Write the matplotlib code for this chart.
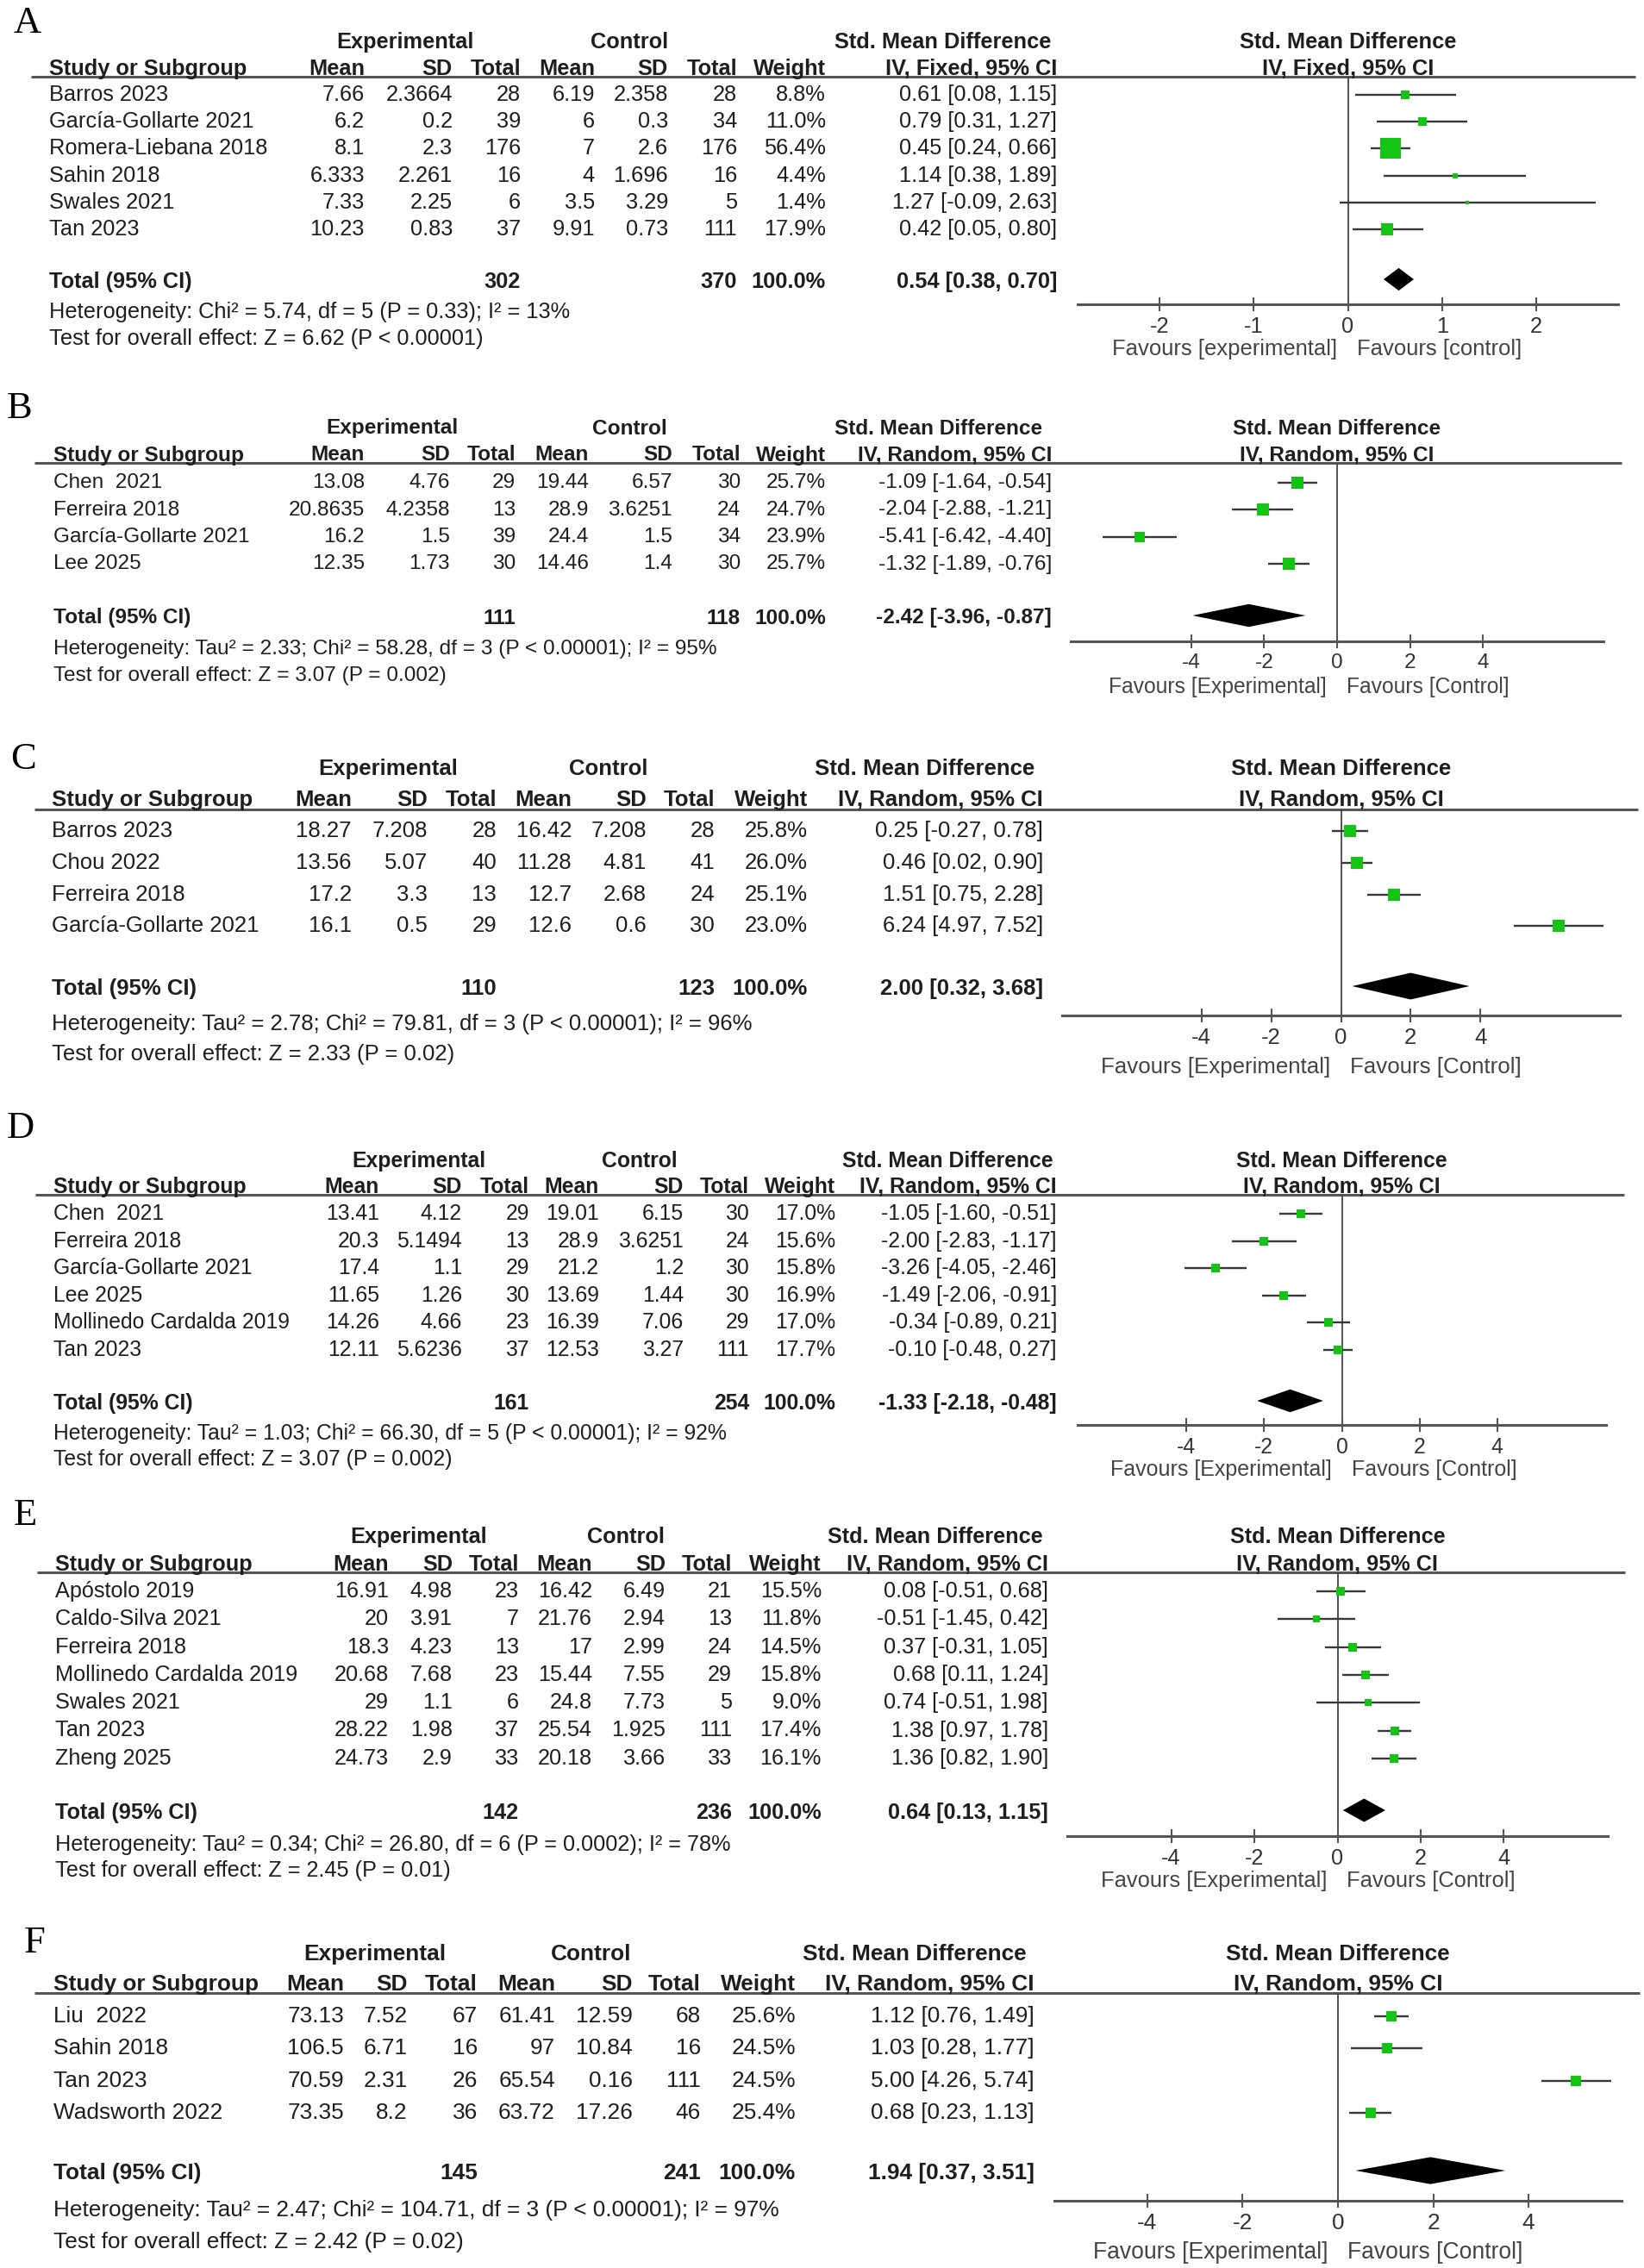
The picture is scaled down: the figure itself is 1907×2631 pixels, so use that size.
"""
Forest plots A-F (Std. Mean Difference, RevMan style), six panels stacked.
Values copied from the published figure; edit the constants below to update.
"""
import matplotlib
matplotlib.use("Agg")
import matplotlib.pyplot as plt
import numpy as np

plt.rcParams["font.family"] = ["Liberation Sans", "DejaVu Sans"]

W, H = 1908, 2631

# ---------------- Panel A (IV, Fixed) ----------------
A_STUDIES = ["Barros 2023", "García-Gollarte 2021", "Romera-Liebana 2018", "Sahin 2018", "Swales 2021", "Tan 2023"]
A_EXP_MEAN = [7.66, 6.2, 8.1, 6.333, 7.33, 10.23]
A_EXP_SD = [2.3664, 0.2, 2.3, 2.261, 2.25, 0.83]
A_EXP_N = [28, 39, 176, 16, 6, 37]
A_CTL_MEAN = [6.19, 6, 7, 4, 3.5, 9.91]
A_CTL_SD = [2.358, 0.3, 2.6, 1.696, 3.29, 0.73]
A_CTL_N = [28, 34, 176, 16, 5, 111]
A_WEIGHT = [8.8, 11.0, 56.4, 4.4, 1.4, 17.9]
A_SMD = [0.61, 0.79, 0.45, 1.14, 1.27, 0.42]
A_LO = [0.08, 0.31, 0.24, 0.38, -0.09, 0.05]
A_HI = [1.15, 1.27, 0.66, 1.89, 2.63, 0.80]
A_TOTAL = [302, 370, 0.54, 0.38, 0.70]  # exp N, ctl N, SMD, lo, hi
A_HET = "Heterogeneity: Chi² = 5.74, df = 5 (P = 0.33); I² = 13%"
A_TEST = "Test for overall effect: Z = 6.62 (P < 0.00001)"

# ---------------- Panel B ----------------
B_STUDIES = ["Chen  2021", "Ferreira 2018", "García-Gollarte 2021", "Lee 2025"]
B_EXP_MEAN = [13.08, 20.8635, 16.2, 12.35]
B_EXP_SD = [4.76, 4.2358, 1.5, 1.73]
B_EXP_N = [29, 13, 39, 30]
B_CTL_MEAN = [19.44, 28.9, 24.4, 14.46]
B_CTL_SD = [6.57, 3.6251, 1.5, 1.4]
B_CTL_N = [30, 24, 34, 30]
B_WEIGHT = [25.7, 24.7, 23.9, 25.7]
B_SMD = [-1.09, -2.04, -5.41, -1.32]
B_LO = [-1.64, -2.88, -6.42, -1.89]
B_HI = [-0.54, -1.21, -4.40, -0.76]
B_TOTAL = [111, 118, -2.42, -3.96, -0.87]
B_HET = "Heterogeneity: Tau² = 2.33; Chi² = 58.28, df = 3 (P < 0.00001); I² = 95%"
B_TEST = "Test for overall effect: Z = 3.07 (P = 0.002)"

# ---------------- Panel C ----------------
C_STUDIES = ["Barros 2023", "Chou 2022", "Ferreira 2018", "García-Gollarte 2021"]
C_EXP_MEAN = [18.27, 13.56, 17.2, 16.1]
C_EXP_SD = [7.208, 5.07, 3.3, 0.5]
C_EXP_N = [28, 40, 13, 29]
C_CTL_MEAN = [16.42, 11.28, 12.7, 12.6]
C_CTL_SD = [7.208, 4.81, 2.68, 0.6]
C_CTL_N = [28, 41, 24, 30]
C_WEIGHT = [25.8, 26.0, 25.1, 23.0]
C_SMD = [0.25, 0.46, 1.51, 6.24]
C_LO = [-0.27, 0.02, 0.75, 4.97]
C_HI = [0.78, 0.90, 2.28, 7.52]
C_TOTAL = [110, 123, 2.00, 0.32, 3.68]
C_HET = "Heterogeneity: Tau² = 2.78; Chi² = 79.81, df = 3 (P < 0.00001); I² = 96%"
C_TEST = "Test for overall effect: Z = 2.33 (P = 0.02)"

# ---------------- Panel D ----------------
D_STUDIES = ["Chen  2021", "Ferreira 2018", "García-Gollarte 2021", "Lee 2025", "Mollinedo Cardalda 2019", "Tan 2023"]
D_EXP_MEAN = [13.41, 20.3, 17.4, 11.65, 14.26, 12.11]
D_EXP_SD = [4.12, 5.1494, 1.1, 1.26, 4.66, 5.6236]
D_EXP_N = [29, 13, 29, 30, 23, 37]
D_CTL_MEAN = [19.01, 28.9, 21.2, 13.69, 16.39, 12.53]
D_CTL_SD = [6.15, 3.6251, 1.2, 1.44, 7.06, 3.27]
D_CTL_N = [30, 24, 30, 30, 29, 111]
D_WEIGHT = [17.0, 15.6, 15.8, 16.9, 17.0, 17.7]
D_SMD = [-1.05, -2.00, -3.26, -1.49, -0.34, -0.10]
D_LO = [-1.60, -2.83, -4.05, -2.06, -0.89, -0.48]
D_HI = [-0.51, -1.17, -2.46, -0.91, 0.21, 0.27]
D_TOTAL = [161, 254, -1.33, -2.18, -0.48]
D_HET = "Heterogeneity: Tau² = 1.03; Chi² = 66.30, df = 5 (P < 0.00001); I² = 92%"
D_TEST = "Test for overall effect: Z = 3.07 (P = 0.002)"

# ---------------- Panel E ----------------
E_STUDIES = ["Apóstolo 2019", "Caldo-Silva 2021", "Ferreira 2018", "Mollinedo Cardalda 2019",
             "Swales 2021", "Tan 2023", "Zheng 2025"]
E_EXP_MEAN = [16.91, 20, 18.3, 20.68, 29, 28.22, 24.73]
E_EXP_SD = [4.98, 3.91, 4.23, 7.68, 1.1, 1.98, 2.9]
E_EXP_N = [23, 7, 13, 23, 6, 37, 33]
E_CTL_MEAN = [16.42, 21.76, 17, 15.44, 24.8, 25.54, 20.18]
E_CTL_SD = [6.49, 2.94, 2.99, 7.55, 7.73, 1.925, 3.66]
E_CTL_N = [21, 13, 24, 29, 5, 111, 33]
E_WEIGHT = [15.5, 11.8, 14.5, 15.8, 9.0, 17.4, 16.1]
E_SMD = [0.08, -0.51, 0.37, 0.68, 0.74, 1.38, 1.36]
E_LO = [-0.51, -1.45, -0.31, 0.11, -0.51, 0.97, 0.82]
E_HI = [0.68, 0.42, 1.05, 1.24, 1.98, 1.78, 1.90]
E_TOTAL = [142, 236, 0.64, 0.13, 1.15]
E_HET = "Heterogeneity: Tau² = 0.34; Chi² = 26.80, df = 6 (P = 0.0002); I² = 78%"
E_TEST = "Test for overall effect: Z = 2.45 (P = 0.01)"

# ---------------- Panel F ----------------
F_STUDIES = ["Liu  2022", "Sahin 2018", "Tan 2023", "Wadsworth 2022"]
F_EXP_MEAN = [73.13, 106.5, 70.59, 73.35]
F_EXP_SD = [7.52, 6.71, 2.31, 8.2]
F_EXP_N = [67, 16, 26, 36]
F_CTL_MEAN = [61.41, 97, 65.54, 63.72]
F_CTL_SD = [12.59, 10.84, 0.16, 17.26]
F_CTL_N = [68, 16, 111, 46]
F_WEIGHT = [25.6, 24.5, 24.5, 25.4]
F_SMD = [1.12, 1.03, 5.00, 0.68]
F_LO = [0.76, 0.28, 4.26, 0.23]
F_HI = [1.49, 1.77, 5.74, 1.13]
F_TOTAL = [145, 241, 1.94, 0.37, 3.51]
F_HET = "Heterogeneity: Tau² = 2.47; Chi² = 104.71, df = 3 (P < 0.00001); I² = 97%"
F_TEST = "Test for overall effect: Z = 2.42 (P = 0.02)"

TICKS_A = [-2, -1, 0, 1, 2]
TICKS_RANDOM = [-4, -2, 0, 2, 4]

INK = "#1e1e1e"
RULE = "#555555"
CI_COL = "#383838"
GREEN = "#14c414"
DY = 3  # text sits a touch lower than the nominal row centre

# layout in pixels (y from top): letter, header rows, rule, first row, row step,
# total/het/test rows, axis row, plot x extent, half range, favours drop, font size
LAYOUT = {
    "A": dict(letter=(16, 38), h1=46, h2=77, line_y=89, line_x=(36, 1897), row0=107, step=31.2,
              total=324, het=359, test=390, axis_y=353, px=(1250, 1877), L=2.87, fav=52, fs=18.3,
              cols=[423, 525, 604, 690, 775, 855, 958, 1226], study_x=57, exp_c=470, ctl_c=730,
              smd_c=1094, box=3.2),
    "B": dict(letter=(8, 485), h1=494, h2=525, line_y=537, line_x=(40, 1881), row0=557, step=31.5,
              total=714, het=750, test=781, axis_y=744, px=(1242, 1860), L=7.3, fav=53, fs=17.6,
              cols=[423, 522, 598, 683, 780, 859, 958, 1220], study_x=62, exp_c=455, ctl_c=730,
              smd_c=1089, box=2.65),
    "C": dict(letter=(12, 892), h1=889, h2=925, line_y=939, line_x=(40, 1900), row0=961, step=36.8,
              total=1144, het=1185, test=1220, axis_y=1178, px=(1232, 1879), L=8.0, fav=60, fs=18.5,
              cols=[408, 496, 576, 663, 750, 829, 937, 1210], study_x=60, exp_c=450, ctl_c=706,
              smd_c=1073, box=2.9),
    "D": dict(letter=(8, 1320), h1=1344, h2=1374, line_y=1386, line_x=(41, 1884), row0=1405, step=31.6,
              total=1625, het=1660, test=1690, axis_y=1653, px=(1250, 1863), L=6.8, fav=52, fs=17.8,
              cols=[440, 536, 614, 695, 793, 869, 969, 1226], study_x=62, exp_c=486, ctl_c=742,
              smd_c=1099, box=2.55),
    "E": dict(letter=(16, 1769), h1=1780, h2=1812, line_y=1824, line_x=(43, 1885), row0=1843, step=32.3,
              total=2100, het=2137, test=2167, axis_y=2130, px=(1238, 1865), L=6.5, fav=52, fs=18.2,
              cols=[451, 525, 602, 687, 772, 849, 953, 1216], study_x=64, exp_c=486, ctl_c=726,
              smd_c=1085, box=2.6),
    "F": dict(letter=(28, 2265), h1=2264, h2=2299, line_y=2312, line_x=(40, 1902), row0=2336, step=37.3,
              total=2518, het=2561, test=2598, axis_y=2553, px=(1223, 1881), L=5.95, fav=60, fs=18.9,
              cols=[399, 473, 554, 644, 734, 813, 923, 1200], study_x=62, exp_c=435, ctl_c=686,
              smd_c=1061, box=2.5),
}


def panel(letter, method, fav, ticks):
    g = globals()
    keys = ["STUDIES", "EXP_MEAN", "EXP_SD", "EXP_N", "CTL_MEAN", "CTL_SD", "CTL_N",
            "WEIGHT", "SMD", "LO", "HI", "TOTAL", "HET", "TEST"]
    d = {k.lower(): g[f"{letter}_{k}"] for k in keys}
    d.update(letter=letter, method=method, fav=fav, ticks=ticks)
    return d


PANELS = [
    panel("A", "IV, Fixed, 95% CI", ("Favours [experimental]", "Favours [control]"), TICKS_A),
    panel("B", "IV, Random, 95% CI", ("Favours [Experimental]", "Favours [Control]"), TICKS_RANDOM),
    panel("C", "IV, Random, 95% CI", ("Favours [Experimental]", "Favours [Control]"), TICKS_RANDOM),
    panel("D", "IV, Random, 95% CI", ("Favours [Experimental]", "Favours [Control]"), TICKS_RANDOM),
    panel("E", "IV, Random, 95% CI", ("Favours [Experimental]", "Favours [Control]"), TICKS_RANDOM),
    panel("F", "IV, Random, 95% CI", ("Favours [Experimental]", "Favours [Control]"), TICKS_RANDOM),
]


def num(v):
    return f"{v:g}"


def ci(s, lo, hi):
    return f"{s:.2f} [{lo:.2f}, {hi:.2f}]"


def draw_panel(fig, ov, d, lay):
    fs = lay["fs"]
    cols = lay["cols"]
    norm = dict(fontsize=fs, color=INK, va="center")
    bold = dict(fontsize=fs, color=INK, va="center", fontweight="bold")
    h1, h2 = lay["h1"] + DY, lay["h2"] + DY

    ov.text(lay["letter"][0], lay["letter"][1], d["letter"], family=["Liberation Serif", "DejaVu Serif"],
            fontsize=32, color="black", ha="left", va="baseline")

    # table header
    ov.text(lay["exp_c"], h1, "Experimental", ha="center", **bold)
    ov.text(lay["ctl_c"], h1, "Control", ha="center", **bold)
    ov.text(lay["smd_c"], h1, "Std. Mean Difference", ha="center", **bold)
    ov.text(lay["study_x"], h2, "Study or Subgroup", ha="left", **bold)
    heads = ["Mean", "SD", "Total", "Mean", "SD", "Total", "Weight", d["method"]]
    for x, h in zip(cols, heads):
        ov.text(x, h2, h, ha="right", **bold)
    ov.plot(lay["line_x"], [lay["line_y"]] * 2, color=RULE, lw=2.2, solid_capstyle="butt")

    # study rows
    n = len(d["studies"])
    ys = lay["row0"] + DY + lay["step"] * np.arange(n)
    for i in range(n):
        y = ys[i]
        ov.text(lay["study_x"], y, d["studies"][i], ha="left", **norm)
        cells = [num(d["exp_mean"][i]), num(d["exp_sd"][i]), str(d["exp_n"][i]),
                 num(d["ctl_mean"][i]), num(d["ctl_sd"][i]), str(d["ctl_n"][i]),
                 f"{d['weight'][i]:.1f}%", ci(d["smd"][i], d["lo"][i], d["hi"][i])]
        for x, c in zip(cols, cells):
            ov.text(x, y, c, ha="right", **norm)

    # total row and footer
    en, cn, ts, tlo, thi = d["total"]
    ty = lay["total"] + DY
    ov.text(lay["study_x"], ty, "Total (95% CI)", ha="left", **bold)
    ov.text(cols[2], ty, str(en), ha="right", **bold)
    ov.text(cols[5], ty, str(cn), ha="right", **bold)
    ov.text(cols[6], ty, "100.0%", ha="right", **bold)
    ov.text(cols[7], ty, ci(ts, tlo, thi), ha="right", **bold)
    ov.text(lay["study_x"], lay["het"] + DY, d["het"], ha="left", **norm)
    ov.text(lay["study_x"], lay["test"] + DY, d["test"], ha="left", **norm)

    # forest plot, y in figure pixels
    x0, x1 = lay["px"]
    ay, ly = lay["axis_y"], lay["line_y"]
    ax = fig.add_axes([x0 / W, 1 - ay / H, (x1 - x0) / W, (ay - ly) / H])
    ax.patch.set_alpha(0)
    ax.set_xlim(-lay["L"], lay["L"])
    ax.set_ylim(ay, ly)
    for s in ["top", "left", "right"]:
        ax.spines[s].set_visible(False)
    ax.spines["bottom"].set_color(RULE)
    ax.spines["bottom"].set_linewidth(2.2)
    ax.set_yticks([])
    ax.set_xticks(d["ticks"])
    ax.set_xticklabels([str(t) for t in d["ticks"]])
    ax.tick_params(axis="x", direction="inout", length=11.5, width=1.5, color=RULE,
                   labelcolor="#333333", labelsize=fs, pad=4)
    ax.axvline(0, color="#444444", lw=1.3, zorder=1)

    ax.hlines(ys, d["lo"], d["hi"], color=CI_COL, lw=1.7, zorder=2)
    for y, s, w in zip(ys, d["smd"], d["weight"]):
        side = lay["box"] * np.sqrt(w) * 0.72
        ax.plot(s, y, marker="s", ms=side, color=GREEN, mec=GREEN, mew=0, ls="none", zorder=3)
    hh = 0.42 * lay["step"]
    dy = lay["total"]
    ax.fill([tlo, ts, thi, ts], [dy, dy - hh, dy, dy + hh], color="black", lw=0, zorder=3)

    ax.text(0, h1, "Std. Mean Difference", ha="center", clip_on=False, **bold)
    ax.text(0, h2, d["method"], ha="center", clip_on=False, **bold)
    for label, dx, ha in [(d["fav"][0], -12, "right"), (d["fav"][1], 11, "left")]:
        ax.annotate(label, xy=(0, 0), xycoords=("data", "axes fraction"),
                    xytext=(dx, -lay["fav"]), textcoords="offset pixels",
                    ha=ha, va="center", fontsize=fs * 1.01, color="#444444")


def main():
    fig = plt.figure(figsize=(W / 100, H / 100), dpi=100)
    fig.patch.set_facecolor("white")
    ov = fig.add_axes([0, 0, 1, 1])
    ov.set_xlim(0, W)
    ov.set_ylim(H, 0)
    ov.axis("off")
    for d in PANELS:
        draw_panel(fig, ov, d, LAYOUT[d["letter"]])
    fig.savefig("out.png", dpi=100)
    plt.close(fig)


if __name__ == "__main__":
    main()
